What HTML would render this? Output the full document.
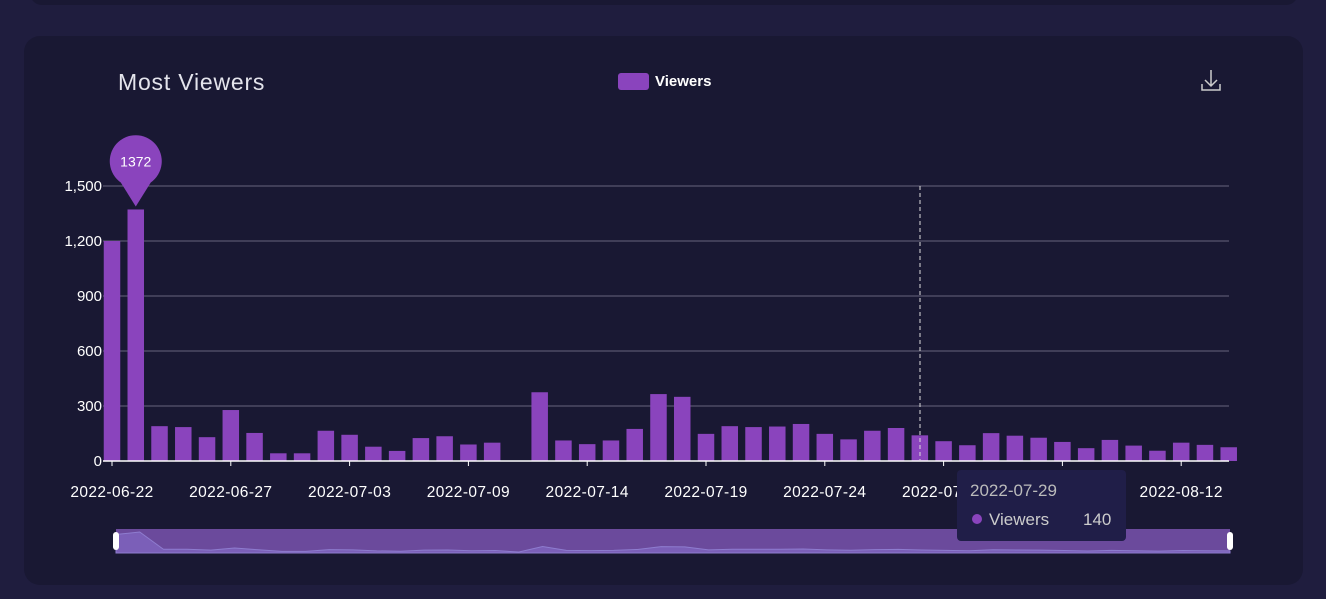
<!DOCTYPE html>
<html><head><meta charset="utf-8">
<style>
html,body{margin:0;padding:0;width:1326px;height:599px;background:#1f1d3e;overflow:hidden;font-family:"Liberation Sans",sans-serif;}
#top{position:absolute;left:30px;top:-20px;width:1268px;height:25px;background:#191833;border-radius:12px;}
#card{position:absolute;left:24px;top:36px;width:1279px;height:549px;background:#191833;border-radius:16px;}
svg{position:absolute;left:0;top:0;}
</style></head><body>
<div id="top"></div>
<div id="card"></div>
<svg id="chart" width="1326" height="599">
<text x="118" y="90" fill="#e4e4ec" font-size="23" letter-spacing="0.8">Most Viewers</text>
<g>
<rect x="618" y="73" width="31" height="17" rx="3" fill="#8a44bd"/>
<text x="655" y="86" fill="#fff" font-size="15" font-weight="bold">Viewers</text>
</g>
<g stroke="#ccc" stroke-width="1.5" fill="none">
<path d="M1211 70 V85 M1205 80 L1211 86 L1217 80 M1202 84 V90 H1220 V84"/>
</g>
<g id="grid"></g><g id="bars"></g><g id="axis"></g>
<line x1="920" y1="186" x2="920" y2="461" stroke="#ddd" stroke-dasharray="4,3"/>
<g id="pin"></g>
<g>
<rect x="116" y="529" width="1114" height="24" fill="#6b4a9c"/>
<path id="spark" fill="#7b5fb8" stroke="#8e7ccf" stroke-width="1"/>
<rect x="113" y="532" width="6" height="18" rx="3" fill="#fff"/>
<rect x="1227" y="532" width="6" height="18" rx="3" fill="#fff"/>
</g>
<g>
<rect x="957" y="470" width="169" height="71" rx="4" fill="#201e48"/>
<text x="970" y="496" fill="#bbb" font-size="17">2022-07-29</text>
<circle cx="977" cy="519" r="5" fill="#8a44bd"/>
<text x="989" y="525" fill="#ccc" font-size="17">Viewers</text>
<text x="1083" y="525" fill="#ccc" font-size="17">140</text>
</g>
</svg>
<script>
const categories=["2022-06-22","","","","","2022-06-27","","","","","2022-07-03","","","","","2022-07-09","","","","","2022-07-14","","","","","2022-07-19","","","","","2022-07-24","","","","","2022-07-29","","","","","","","","","","2022-08-12","","",""];
const viewers=[1200,1372,190,185,130,278,153,42,42,165,143,78,55,125,135,90,100,0,375,112,92,112,175,365,350,148,190,185,188,202,148,118,165,180,140,108,86,152,138,127,104,70,115,84,56,100,88,75];
const yTicks=[0,300,600,900,1200,1500];
const NS="http://www.w3.org/2000/svg";
const x0=112,step=23.76,y0=461,yScale=275/1500,bw=16.5;
const X=i=>x0+i*step, Y=v=>y0-v*yScale;
function mk(t,a,p){const e=document.createElementNS(NS,t);for(const k in a)e.setAttribute(k,a[k]);p.appendChild(e);return e;}
const grid=document.getElementById('grid'),bars=document.getElementById('bars'),axis=document.getElementById('axis');
yTicks.forEach(v=>{
 if(v>0){const l=mk('line',{x1:103,x2:1229,y1:Y(v),y2:Y(v),stroke:'#66657c','stroke-width':1},grid);
 
 }
 const t=mk('text',{x:102,y:Y(v)+5,fill:'#fff','font-size':15,'text-anchor':'end'},axis);
 t.textContent=v.toLocaleString('en-US');
 
 
});
viewers.forEach((v,i)=>{
 const r=mk('rect',{x:X(i)-bw/2,y:Y(v),width:bw,height:v*yScale,fill:'#8a44bd'},bars);
 
 
});
const al=mk('line',{x1:103,x2:1229,y1:y0,y2:y0,stroke:'#fff','stroke-width':1.5},axis);


categories.forEach((c,i)=>{
 if(i%5!==0)return;
 mk('line',{x1:X(i),x2:X(i),y1:y0,y2:y0+5,stroke:'#fff'},axis);
 if(!c)return;
 const t=mk('text',{x:X(i),y:497,fill:'#fff','font-size':15.5,'text-anchor':'middle','letter-spacing':0.4},axis);
 t.textContent=c;
 
 
});
let mi=0;viewers.forEach((v,i)=>{if(v>viewers[mi])mi=i;});
const pin=document.getElementById('pin');
const px=X(mi),ty=Y(viewers[mi])-3,cy=ty-45;
const pp=mk('path',{d:`M${px} ${ty} L${px-15} ${cy+21} A26 26 0 1 1 ${px+15} ${cy+21} Z`,fill:'#8a44bd'},pin);


const pt=mk('text',{x:px,y:cy+5,fill:'#fff','font-size':14,'text-anchor':'middle'},pin);
pt.textContent=viewers[mi];
const sx=i=>116+i*(1114/(viewers.length-1)), sy=v=>552-v/1372*20;
let d=`M116 553`;viewers.forEach((v,i)=>{d+=` L${sx(i)} ${sy(v)}`;});d+=` L1230 553 Z`;
document.getElementById('spark').setAttribute('d',d);
</script>
</body></html>
